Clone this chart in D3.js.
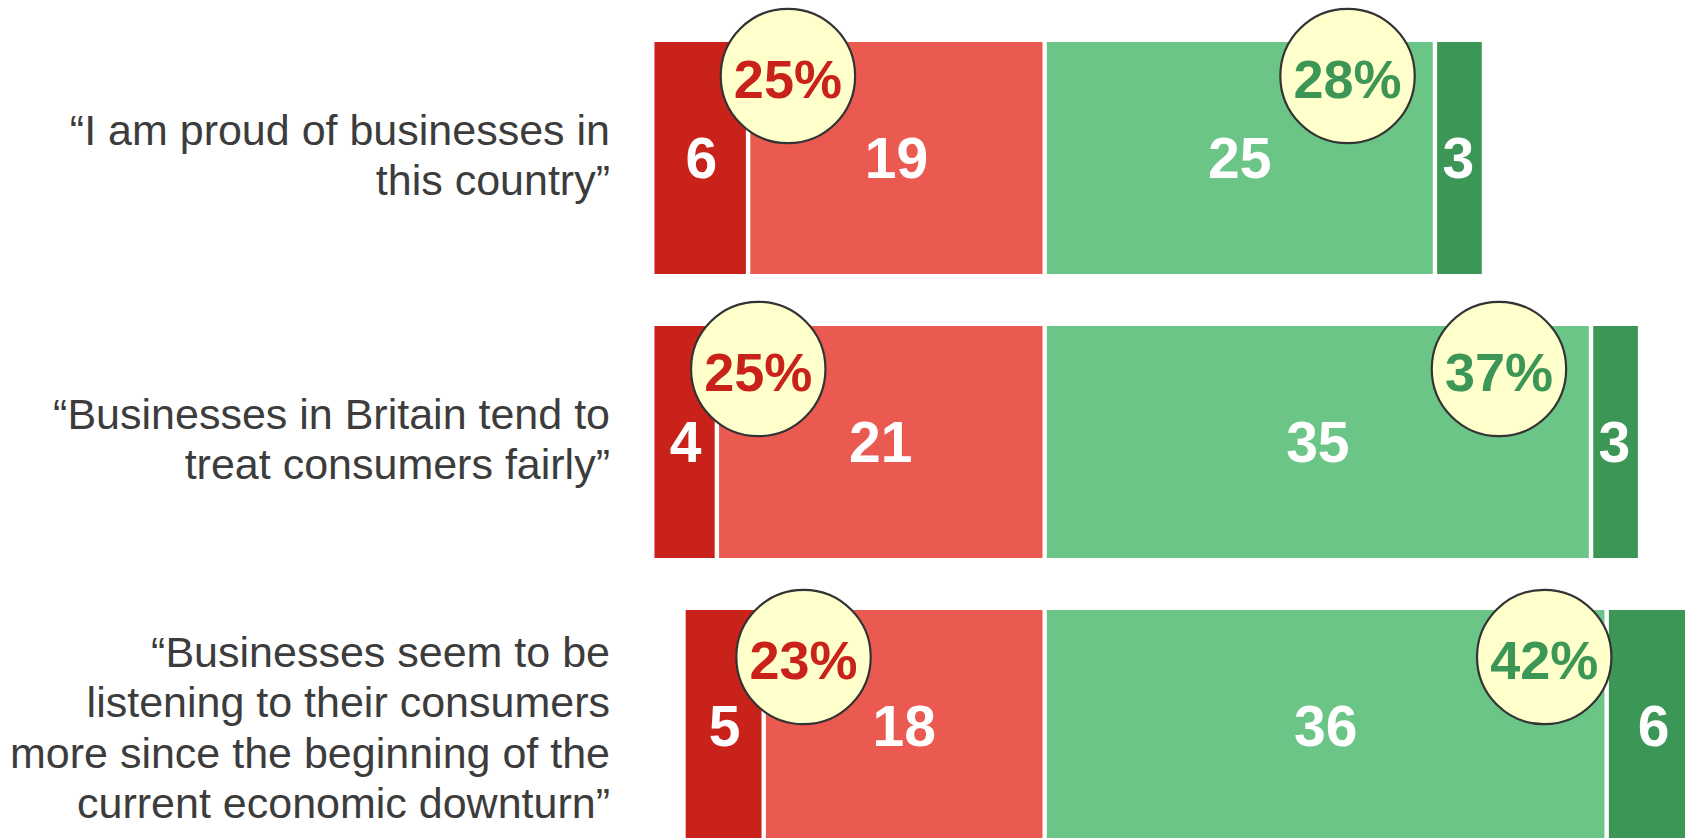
<!DOCTYPE html>
<html>
<head>
<meta charset="utf-8">
<script src="https://cdn.jsdelivr.net/npm/d3@7"></script>
<style>
  html, body { margin: 0; padding: 0; background: #ffffff; overflow: hidden; }
  svg { display: block; }
</style>
</head>
<body>
<svg id="chart" width="1685" height="838"></svg>
<script>
// ---------- DATA ----------
const categories = [
  "I am proud of businesses in this country",
  "Businesses in Britain tend to treat consumers fairly",
  "Businesses seem to be listening to their consumers more since the beginning of the current economic downturn"
];
const labelLines = [
  ["\u201CI am proud of businesses in", "this country\u201D"],
  ["\u201CBusinesses in Britain tend to", "treat consumers fairly\u201D"],
  ["\u201CBusinesses seem to be", "listening to their consumers", "more since the beginning of the", "current economic downturn\u201D"]
];
const stronglyDisagree = [6, 4, 5];
const tendToDisagree   = [19, 21, 18];
const tendToAgree      = [25, 35, 36];
const stronglyAgree    = [3, 3, 6];
const disagreeTotals   = ["25%", "25%", "23%"];
const agreeTotals      = ["28%", "37%", "42%"];
// callout centres, in value units along the axis
const disagreeCalloutAt = [-16.45, -18.35, -15.45];
const agreeCalloutAt    = [19.4, 29.1, 32.0];

// ---------- STYLE / LAYOUT ----------
const colors = {
  sd: "#c9221a", td: "#ea5a50", ta: "#6bc587", sa: "#3c9656",
  text: "#3c3c3c", circleFill: "#ffffcc", circleStroke: "#333333",
  redText: "#c9221a", greenText: "#3c9656"
};
const calloutDy = [34, 43, 47];   // circle centre below bar top
const labelDy = [12, 12, 16.5];   // label block centre below bar centre
const gap = 4.4;

const svg = d3.select("#chart");
const center = 1044.7, unit = 15.61;
const x = d3.scaleLinear().domain([-30, 45]).range([center - 30 * unit, center + 45 * unit]);
const y = d3.scaleBand().domain(categories).range([42, 842]).paddingInner(52 / 284).paddingOuter(0);

// build segments
const rows = categories.map((c, i) => {
  const segs = [
    { key: "sd", start: -(stronglyDisagree[i] + tendToDisagree[i]), end: -tendToDisagree[i], v: stronglyDisagree[i] },
    { key: "td", start: -tendToDisagree[i], end: 0, v: tendToDisagree[i] },
    { key: "ta", start: 0, end: tendToAgree[i], v: tendToAgree[i] },
    { key: "sa", start: tendToAgree[i], end: tendToAgree[i] + stronglyAgree[i], v: stronglyAgree[i] }
  ];
  const lo = segs[0].start, hi = segs[3].end;
  segs.forEach(s => { s.cat = c; s.lo = lo; s.hi = hi; });
  return segs;
});

const gRows = svg.selectAll("g.row").data(rows).join("g").attr("class", "row");

gRows.selectAll("rect").data(d => d).join("rect")
  .attr("x", d => x(d.start) + (d.start === d.lo ? 0 : gap / 2))
  .attr("width", d => (x(d.end) - (d.end === d.hi ? 0 : gap / 2)) - (x(d.start) + (d.start === d.lo ? 0 : gap / 2)))
  .attr("y", d => y(d.cat))
  .attr("height", y.bandwidth())
  .attr("fill", d => colors[d.key]);

gRows.selectAll("text.val").data(d => d).join("text")
  .attr("class", "val")
  .attr("x", d => x((d.start + d.end) / 2))
  .attr("y", d => y(d.cat) + y.bandwidth() / 2 + 20.4)
  .attr("text-anchor", "middle")
  .attr("font-family", "Liberation Sans, Arial, sans-serif")
  .attr("font-weight", "bold")
  .attr("font-size", 57)
  .attr("fill", "#ffffff")
  .text(d => d.v);

// left labels
categories.forEach((c, i) => {
  const lines = labelLines[i];
  const lh = 50.5;
  const mid = y(c) + y.bandwidth() / 2 + labelDy[i];
  const first = mid - (lines.length - 1) * lh / 2;
  const t = svg.append("text")
    .attr("text-anchor", "end")
    .attr("font-family", "Liberation Sans, Arial, sans-serif")
    .attr("font-size", 43)
    .attr("fill", colors.text);
  lines.forEach((ln, j) => {
    t.append("tspan").attr("x", 610).attr("y", first + j * lh).text(ln);
  });
});

// callout circles
const callouts = [];
categories.forEach((c, i) => {
  callouts.push({ cx: x(disagreeCalloutAt[i]), cy: y(c) + calloutDy[i], label: disagreeTotals[i], color: colors.redText });
  callouts.push({ cx: x(agreeCalloutAt[i]), cy: y(c) + calloutDy[i], label: agreeTotals[i], color: colors.greenText });
});
const gc = svg.selectAll("g.callout").data(callouts).join("g").attr("class", "callout");
gc.append("circle")
  .attr("cx", d => d.cx).attr("cy", d => d.cy).attr("r", 67.2)
  .attr("fill", colors.circleFill).attr("stroke", colors.circleStroke).attr("stroke-width", 2.2);
gc.append("text")
  .attr("x", d => d.cx).attr("y", d => d.cy + 21.5)
  .attr("text-anchor", "middle")
  .attr("font-family", "Liberation Sans, Arial, sans-serif")
  .attr("font-weight", "bold")
  .attr("font-size", 54)
  .attr("fill", d => d.color)
  .text(d => d.label);
</script>
</body>
</html>
